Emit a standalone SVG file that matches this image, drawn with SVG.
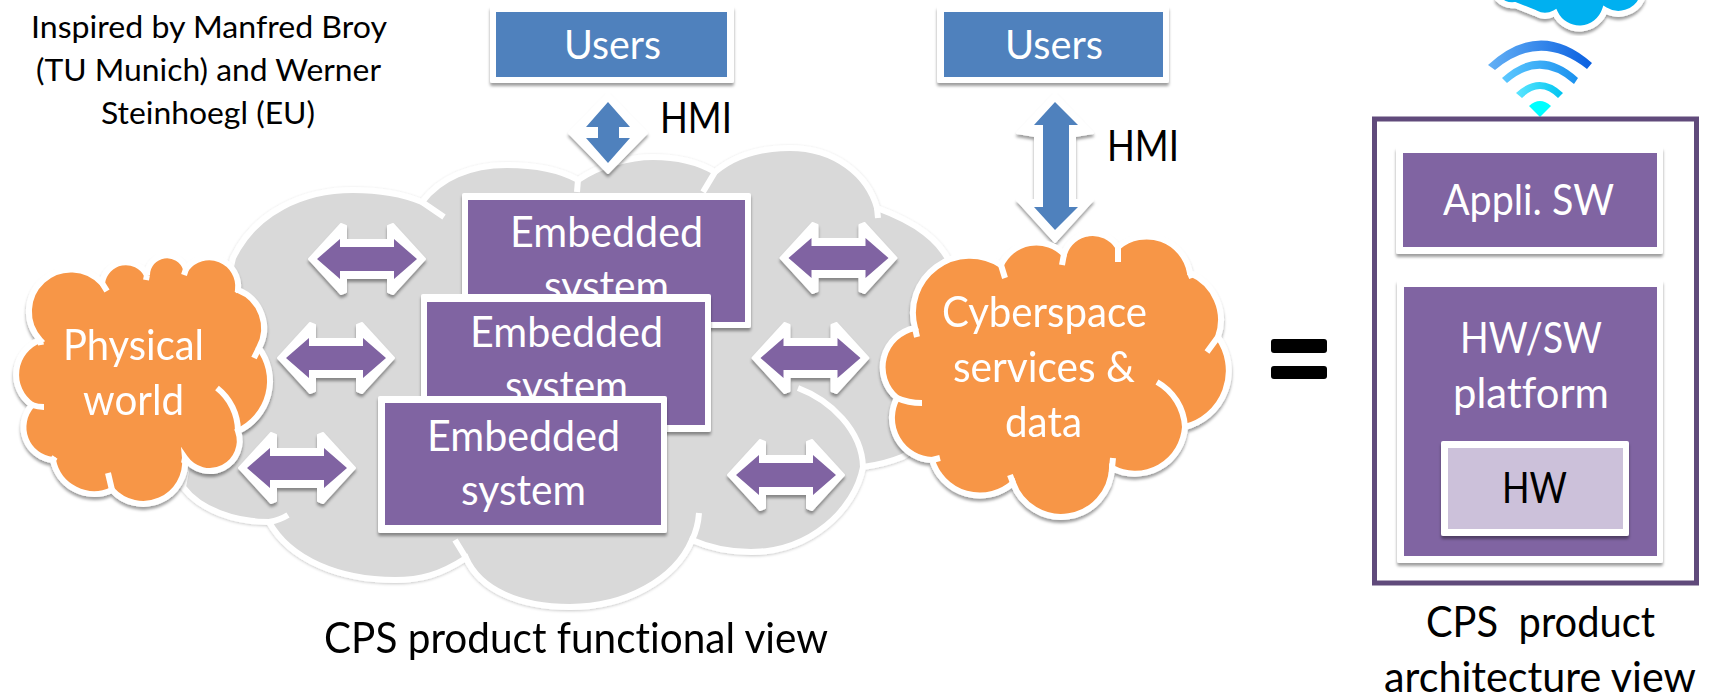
<svg xmlns="http://www.w3.org/2000/svg" width="1711" height="700" viewBox="0 0 1711 700">
<style>
text{font-family:Lato,"Liberation Sans",sans-serif;white-space:pre;font-variant-ligatures:none}
.k{fill:#000}.w{fill:#fff}
.t28{font-size:30px}.t40{font-size:42px}.t38{font-size:41px}
.pu{fill:#8064a2}.bl{fill:#4f81bd}.wh{fill:#fff}
.stub{fill:none;stroke:#fff;stroke-width:6;stroke-linecap:butt}
.cl{stroke:#fff;stroke-width:6;stroke-linejoin:miter}
.or{fill:#f79646}
.gr{fill:#d9d9d9}
.aw{fill:#fff;stroke:#fff;stroke-width:2;stroke-linejoin:round}
</style>
<defs>
<filter id="sh" x="-20%" y="-20%" width="140%" height="140%"><feDropShadow dx="0" dy="3" stdDeviation="1.8" flood-color="#000" flood-opacity=".38"/></filter>
<filter id="sg" x="-10%" y="-10%" width="120%" height="120%"><feDropShadow dx="0" dy="1" stdDeviation="1.5" flood-color="#000" flood-opacity=".22"/></filter>
<linearGradient id="w1"><stop offset="0" stop-color="#63b0f5"/><stop offset="1" stop-color="#0a5fe0"/></linearGradient>
<linearGradient id="w2"><stop offset="0" stop-color="#5cc8ff"/><stop offset="1" stop-color="#1a90ee"/></linearGradient>
<linearGradient id="w3"><stop offset="0" stop-color="#5ce5ff"/><stop offset="1" stop-color="#00c4f0"/></linearGradient>
<g id="harrow">
<polygon class="aw" points="-58,0 -26,-35 -21,-33 -21,-19 21,-19 21,-33 26,-35 58,0 26,35 21,33 21,19 -21,19 -21,33 -26,35"/>
<polygon class="pu" points="-50,0 -27,-20 -27,-12 27,-12 27,-20 50,0 27,20 27,12 -27,12 -27,20"/>
</g>
</defs>

<g id="note">
<text class="t28 k" x="31" y="38" textLength="356" lengthAdjust="spacingAndGlyphs">Inspired by Manfred Broy</text>
<text class="t28 k" x="36" y="81" textLength="345" lengthAdjust="spacingAndGlyphs">(TU Munich) and Werner</text>
<text class="t28 k" x="101" y="124" textLength="214" lengthAdjust="spacingAndGlyphs">Steinhoegl (EU)</text>
</g>

<g id="grey-cloud" filter="url(#sg)">
<path class="gr cl" d="M183,487 L200,400 L233,258 C255,212 303,190 353,190 C380,190 405,195 422,202 C440,178 470,165 507,165 C535,165 560,170 578,180 C600,165 630,157 653,157 C675,157 698,162 715,172 C735,155 760,148 790,148 C835,148 868,175 877,208 C915,222 942,240 952,268 L1000,400 L902,457 Q885,464 863,467 C855,510 810,552 751,552 C730,552 710,548 692,540 C675,580 625,607 570,607 C520,607 480,590 466,558 C440,575 420,580 395,580 C340,580 290,560 269,522 C235,522 200,510 183,487 Z"/>
</g>
<g id="grey-cloud-creases">
<path class="stub" d="M422,202 L444,217 M877,208 L878,218 M578,180 L577,192 M715,172 L703,192 M798,388 C830,400 862,430 863,467 M692,540 Q698,528 699,513 M466,558 L455,540 M269,522 Q280,520 288,515"/>
</g>

<g id="connectors">
<g filter="url(#sh)">
<use href="#harrow" x="367" y="259"/>
<use href="#harrow" x="336" y="358"/>
<use href="#harrow" x="297" y="468"/>
<use href="#harrow" x="838.5" y="258"/>
<use href="#harrow" x="810.5" y="358"/>
<use href="#harrow" x="786" y="475"/>
</g>
<g id="hmi-arrow-1">
<polygon points="608,93 647,133 608,173 569,133" class="aw" filter="url(#sh)"/>
<polygon class="bl" points="608,102 630,127 619,127 619,138 630,138 608,163 586,138 598,138 598,127 586,127"/>
</g>
<g id="hmi-arrow-2">
<polygon class="aw" filter="url(#sh)" points="1055,93 1093,133 1075,136 1075,200 1093,200 1055,242 1017,200 1035,200 1035,136 1017,133"/>
<polygon class="bl" points="1055,102 1078,125 1069,125 1069,207 1078,207 1055,230 1034,207 1043,207 1043,125 1034,125"/>
</g>
</g>

<g id="users-1">
<rect x="490" y="6" width="244" height="77" rx="2" class="wh" filter="url(#sh)"/>
<rect x="496" y="12" width="231" height="65" class="bl"/>
<text class="t38 w" x="564" y="59" textLength="97" lengthAdjust="spacingAndGlyphs">Users</text>
</g>
<g id="users-2">
<rect x="937" y="6" width="232" height="77" rx="2" class="wh" filter="url(#sh)"/>
<rect x="944" y="12" width="219" height="65" class="bl"/>
<text class="t38 w" x="1005" y="59" textLength="98" lengthAdjust="spacingAndGlyphs">Users</text>
</g>
<text id="hmi-1" class="t40 k" x="660" y="133" textLength="72" lengthAdjust="spacingAndGlyphs">HMI</text>
<text id="hmi-2" class="t40 k" x="1107" y="161" textLength="72" lengthAdjust="spacingAndGlyphs">HMI</text>

<g id="embedded-1">
<rect x="462" y="193" width="289" height="135" rx="2" class="wh" filter="url(#sh)"/>
<rect x="468" y="200" width="277" height="122" class="pu"/>
<text class="t40 w" x="510" y="247" textLength="193" lengthAdjust="spacingAndGlyphs">Embedded</text>
<text class="t40 w" x="544" y="301" textLength="125" lengthAdjust="spacingAndGlyphs">system</text>
</g>
<g id="embedded-2">
<rect x="421" y="294" width="290" height="138" rx="2" class="wh" filter="url(#sh)"/>
<rect x="427" y="302" width="278" height="123" class="pu"/>
<text class="t40 w" x="470" y="347" textLength="193" lengthAdjust="spacingAndGlyphs">Embedded</text>
<text class="t40 w" x="505" y="401" textLength="123" lengthAdjust="spacingAndGlyphs">system</text>
</g>
<g id="embedded-3">
<rect x="378" y="396" width="289" height="137" rx="2" class="wh" filter="url(#sh)"/>
<rect x="385" y="403" width="276" height="122" class="pu"/>
<text class="t40 w" x="427" y="451" textLength="193" lengthAdjust="spacingAndGlyphs">Embedded</text>
<text class="t40 w" x="461" y="505" textLength="125" lengthAdjust="spacingAndGlyphs">system</text>
</g>

<g id="physical-world">
<path class="or cl" filter="url(#sh)" d="M40,340 A40,40 0 0 1 102,283 A24,24 0 0 1 147,275 A20,20 0 0 1 186,269 A29,29 0 0 1 238,290 A41,41 0 0 1 259,348 A55,55 0 0 1 238,431 A30,30 0 0 1 185,458 A42,42 0 0 1 112,490 A42,42 0 0 1 53,460 A33,33 0 0 1 32,405 A37,37 0 0 1 40,340 Z"/>
<path class="stub" d="M40,340 L41,345 M102,283 L107,291 M147,275 L146,280 M186,269 L184,275 M238,290 L239,292 M259,348 L254,358 M217,388 A55,55 0 0 1 238,431 M185,458 L184,463 M112,490 L108,473 M53,460 L55,457 M32,405 Q38,407 44,407"/>
<text class="t40 w" x="63" y="360" textLength="141" lengthAdjust="spacingAndGlyphs">Physical</text>
<text class="t40 w" x="83" y="415" textLength="101" lengthAdjust="spacingAndGlyphs">world</text>
</g>

<g id="cyberspace">
<path class="or cl" filter="url(#sh)" d="M915,328 A57,57 0 0 1 1001,265 A39,39 0 0 1 1064,254 A30,30 0 0 1 1118,247 A44,44 0 0 1 1190,273 A51,51 0 0 1 1218,337 A58,58 0 0 1 1185,427 A50,50 0 0 1 1112,468 A51,51 0 0 1 1013,483 A50,50 0 0 1 932,460 A42,42 0 0 1 897,398 A40,40 0 0 1 915,328 Z"/>
<path class="stub" d="M915,328 L917,337 M1001,265 L1005,278 M1064,254 L1062,265 M1118,247 L1118,262 M1190,273 L1192,278 M1218,337 L1207,352 M1157,382 A55,55 0 0 1 1185,427 M1112,468 L1113,458 M1013,483 L1010,475 M932,460 L940,458 M897,398 Q908,403 922,403"/>
<text class="t40 w" x="942" y="327" textLength="205" lengthAdjust="spacingAndGlyphs">Cyberspace</text>
<text class="t40 w" x="953" y="382" textLength="182" lengthAdjust="spacingAndGlyphs">services &amp;</text>
<text class="t40 w" x="1005" y="437" textLength="77" lengthAdjust="spacingAndGlyphs">data</text>
</g>

<g id="functional-caption">
<text class="t40 k" x="324" y="653" textLength="504" lengthAdjust="spacingAndGlyphs">CPS product functional view</text>
</g>

<g id="equals">
<rect x="1271" y="339" width="56" height="14" rx="3" fill="#000"/>
<rect x="1271" y="366" width="56" height="13" rx="3" fill="#000"/>
</g>

<g id="blue-cloud">
<path d="M1498,-8 L1498,-1 A20,20 0 0 0 1515,5 L1535,13 A20,20 0 0 0 1555,13 A27,27 0 0 0 1605,10 A26,26 0 0 0 1642,-1 L1642,-8 Z" fill="#00b0f0" stroke="#fff" stroke-width="6" filter="url(#sh)"/>
</g>

<g id="wifi">
<path d="M1488,65 Q1540,17 1592,63 L1587,69 Q1540,32 1495,70 Z" fill="url(#w1)"/>
<path d="M1502,78 Q1540,43 1578,78 L1574,84 Q1540,54 1507,83 Z" fill="url(#w2)"/>
<path d="M1516,93 Q1540,71 1563,93 L1558,98 Q1540,80 1522,98 Z" fill="url(#w3)"/>
<path d="M1529,106 Q1540,96 1551,106 L1540,117 Z" fill="#0ff"/>
</g>

<g id="product-frame">
<rect x="1374.5" y="119" width="322" height="464" fill="#fff" stroke="#604a7b" stroke-width="5"/>
</g>
<g id="appli-sw">
<rect x="1396" y="147" width="267" height="107" rx="2" class="wh" filter="url(#sh)"/>
<rect x="1403" y="153" width="254" height="94" class="pu"/>
<text class="t40 w" x="1443" y="215" textLength="171" lengthAdjust="spacingAndGlyphs">Appli. SW</text>
</g>
<g id="hw-sw-platform">
<rect x="1397" y="280" width="266" height="283" rx="2" class="wh" filter="url(#sh)"/>
<rect x="1404" y="287" width="253" height="269" class="pu"/>
<text class="t40 w" x="1460" y="353" textLength="142" lengthAdjust="spacingAndGlyphs">HW/SW</text>
<text class="t40 w" x="1453" y="408" textLength="156" lengthAdjust="spacingAndGlyphs">platform</text>
</g>
<g id="hw">
<rect x="1441" y="441" width="188" height="95" rx="2" class="wh" filter="url(#sh)"/>
<rect x="1448" y="448" width="175" height="81" fill="#ccc1da"/>
<text class="t40 k" x="1502" y="503" textLength="65" lengthAdjust="spacingAndGlyphs">HW</text>
</g>
<g id="architecture-caption">
<text class="t40 k" x="1426" y="637" textLength="229" lengthAdjust="spacingAndGlyphs">CPS  product</text>
<text class="t40 k" x="1384" y="692" textLength="312" lengthAdjust="spacingAndGlyphs">architecture view</text>
</g>
</svg>
